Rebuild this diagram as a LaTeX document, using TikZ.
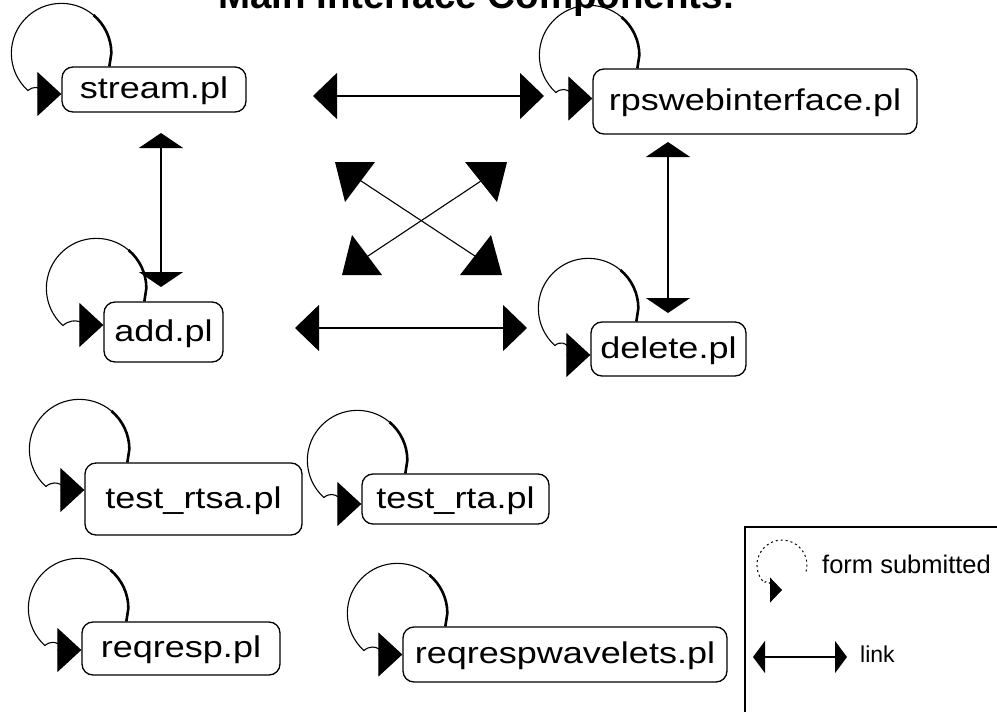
\documentclass[tikz,border=0pt]{standalone}
\usepackage{fontspec}
\usetikzlibrary{arrows.meta,calc}
\newfontfamily\lblfont[FakeStretch=1.2]{Liberation Sans}
\newfontfamily\lgdfont{Liberation Sans}
\tikzset{
 comp/.style={draw, line width=1.3pt, rounded corners=11pt, inner sep=0pt,
   font=\lblfont\fontsize{30}{30}\selectfont, text height=23pt, text depth=5pt},
 loopline/.style={line width=1.1pt, -{Triangle[length=24pt,width=44pt]}},
 loopthick/.style={line width=2.6pt},
 linkh/.style={line width=1.5pt, {Triangle[length=24pt,width=46pt]}-{Triangle[length=24pt,width=46pt]}},
 linkv/.style={line width=1.5pt, {Triangle[length=15pt,width=44pt]}-{Triangle[length=15pt,width=44pt]}},
 crossline/.style={line width=1.1pt},
 headfill/.style={fill=black},
 lgd/.style={inner sep=0pt, font=\lgdfont\fontsize{25.5}{26}\selectfont},
 lgdsmall/.style={inner sep=0pt, font=\lgdfont\fontsize{23}{24}\selectfont},
 titlefont/.style={inner sep=0pt, font=\lgdfont\bfseries\fontsize{38.5}{40}\selectfont},
}
\newcommand\formloop[3]{%
 \draw[loopline,shift={(#1.north west)}] (#2,0) -- ++(2,-13) arc[start angle=0,end angle=-228,radius=50] to[out=40,in=180] ([yshift=#3pt]#1.west);
 \draw[loopthick,shift={(#1.north west)}] (#2,0) -- ++(2,-13) arc[start angle=0,end angle=-50,radius=50];
}
\begin{document}
\begin{tikzpicture}[x=1pt,y=-1pt]
\useasboundingbox (0,0) rectangle (997,712);
\clip (0,0) rectangle (997,712);
\fill[white] (0,0) rectangle (997,712);

% title (cut off at the top)
\node[titlefont, anchor=base] (title) at (477,9) {Main Interface Components:};

% components
\node[comp, minimum width=184pt, minimum height=45pt] (stream) at (154,89.5) {stream.pl};
\node[comp, minimum width=324pt, minimum height=65pt] (rps) at (755,101.5) {rpswebinterface.pl};
\node[comp, minimum width=119pt, minimum height=60pt] (add) at (163.5,332) {add.pl};
\node[comp, minimum width=155pt, minimum height=54pt] (delete) at (668.5,349) {delete.pl};
\node[comp, minimum width=217pt, minimum height=72pt] (rtsa) at (193.5,499) {test\_rtsa.pl};
\node[comp, minimum width=187pt, minimum height=50pt] (rta) at (455.5,499) {test\_rta.pl};
\node[comp, minimum width=198pt, minimum height=53pt] (reqresp) at (181,648.5) {reqresp.pl};
\node[comp, minimum width=324pt, minimum height=55pt] (wav) at (565,654.5) {reqrespwavelets.pl};

% form-submitted loops
\formloop{stream}{48}{-4.5}
\formloop{rps}{45}{3}
\formloop{add}{41}{7}
\formloop{delete}{46}{-6}
\formloop{rtsa}{43}{9}
\formloop{rta}{44}{-5}
\formloop{reqresp}{45}{-1.5}
\formloop{wav}{43}{0}

% links
\coordinate (a1) at (313,96);
\coordinate (a2) at (544,96);
\draw[linkh] (a1) -- (a2);
\coordinate (b1) at (161,133);
\coordinate (b2) at (161,287);
\draw[linkv] (b1) -- (b2);
\coordinate (c1) at (668,142);
\coordinate (c2) at (668,313);
\draw[linkv] (c1) -- (c2);
\coordinate (d1) at (295,328);
\coordinate (d2) at (527,328);
\draw[linkh] (d1) -- (d2);

% crossing links
\coordinate (x1) at (352,175);
\coordinate (x2) at (484,262);
\coordinate (x3) at (490,175);
\coordinate (x4) at (359,262);
\draw[crossline] (x1) -- (x2);
\draw[crossline] (x3) -- (x4);
\fill[headfill] (335,162) -- (375,162) -- (345,202) -- cycle;
\fill[headfill] (460,275) -- (502,275) -- (491,235) -- cycle;
\fill[headfill] (465,162) -- (507,162) -- (497,202) -- cycle;
\fill[headfill] (352,235) -- (342,275) -- (382,275) -- cycle;

% legend
\draw[line width=1.5pt] (1005,527) -| (745,720);
\coordinate (lgtip) at (782,590);
\draw[line width=1pt, dash pattern=on 2pt off 3pt, -{Triangle[length=12pt,width=25pt]}]
  (806.1,571.5) arc[start angle=15,end angle=-225,radius=25] to[out=45,in=180] (lgtip);
\node[lgd, anchor=base west] (fs) at (822,573) {form submitted};
\coordinate (l1) at (753,657);
\coordinate (l2) at (847,657);
\draw[line width=1.3pt, {Triangle[length=12pt,width=32pt]}-{Triangle[length=12pt,width=32pt]}] (l1) -- (l2);
\node[lgdsmall, anchor=base west] (lk) at (860,662) {link};
\end{tikzpicture}
\end{document}
